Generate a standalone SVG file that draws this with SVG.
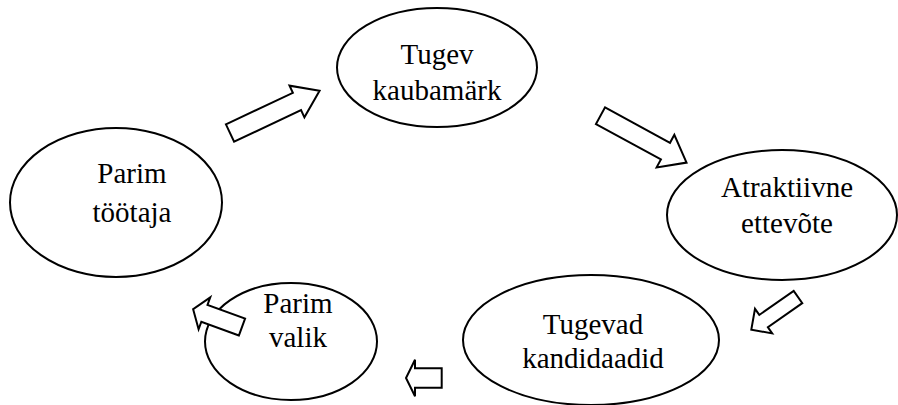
<svg xmlns="http://www.w3.org/2000/svg" width="898" height="405" viewBox="0 0 898 405">
  <style>
    .node ellipse { fill: #ffffff; stroke: #000000; stroke-width: 2; }
    .node text { font-family: 'Liberation Serif', 'DejaVu Serif', serif; font-size: 29px; fill: #000000; text-anchor: middle; }
    .arrow { fill: #ffffff; stroke: #000000; stroke-width: 2; stroke-linejoin: miter; }
  </style>

  <g id="node-tugev-kaubamark" class="node">
    <ellipse cx="437" cy="67.5" rx="100" ry="59.5"/>
    <text x="437" y="64" font-family="Liberation Serif, serif">Tugev</text>
    <text x="437" y="100" font-family="Liberation Serif, serif">kaubamärk</text>
  </g>

  <g id="node-atraktiivne-ettevote" class="node">
    <ellipse cx="782" cy="215" rx="115" ry="65"/>
    <text x="787" y="197" font-family="Liberation Serif, serif">Atraktiivne</text>
    <text x="787" y="233" font-family="Liberation Serif, serif">ettevõte</text>
  </g>

  <g id="node-tugevad-kandidaadid" class="node">
    <ellipse cx="591" cy="340" rx="128" ry="65"/>
    <text x="593" y="334" font-family="Liberation Serif, serif">Tugevad</text>
    <text x="593" y="368" font-family="Liberation Serif, serif">kandidaadid</text>
  </g>

  <g id="node-parim-valik" class="node">
    <ellipse cx="291" cy="341.5" rx="86" ry="58.5"/>
    <text x="298" y="313" font-family="Liberation Serif, serif">Parim</text>
    <text x="298" y="347" font-family="Liberation Serif, serif">valik</text>
  </g>

  <g id="node-parim-tootaja" class="node">
    <ellipse cx="116" cy="202.5" rx="106" ry="74.5"/>
    <text x="132" y="183" font-family="Liberation Serif, serif">Parim</text>
    <text x="132" y="222" font-family="Liberation Serif, serif">töötaja</text>
  </g>

  <!-- block arrows: drawn pointing +x from the tail midpoint, then placed -->
  <g id="connectors">
    <polygon class="arrow" transform="translate(230 133) rotate(-25.2)"
             points="0,-9.6 74,-9.6 74,-17.5 99,0 74,17.5 74,9.6 0,9.6"/>
    <polygon class="arrow" transform="translate(600.5 115.7) rotate(28.6)"
             points="0,-9.5 74,-9.5 74,-18.5 98,0 74,18.5 74,9.5 0,9.5"/>
    <polygon class="arrow" transform="translate(798 297) rotate(145)"
             points="0,-7.5 42,-7.5 42,-15 57,0 42,15 42,7.5 0,7.5"/>
    <polygon class="arrow" transform="translate(441.7 378) rotate(180)"
             points="0,-9.7 26.7,-9.7 26.7,-18.3 35.7,0 26.7,18.3 26.7,9.7 0,9.7"/>
    <polygon class="arrow" transform="translate(242 327) rotate(-160)"
             points="0,-9 40,-9 40,-17 52,0 40,17 40,9 0,9"/>
  </g>
</svg>
